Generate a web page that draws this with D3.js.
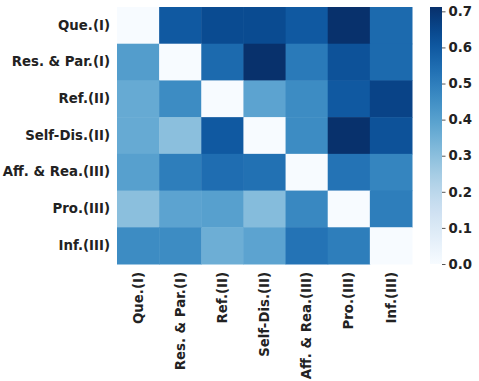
<!DOCTYPE html>
<html>
<head>
<meta charset="utf-8">
<script src="https://cdn.jsdelivr.net/npm/d3@7"></script>
<style>
  body { margin: 0; background: #fff; }
  text { font-family: "DejaVu Sans", sans-serif; font-weight: bold; fill: #222; }
</style>
</head>
<body>
<svg width="479" height="381"></svg>
<script>
const labels = ['Que.(I)', 'Res. & Par.(I)', 'Ref.(II)', 'Self-Dis.(II)', 'Aff. & Rea.(III)', 'Pro.(III)', 'Inf.(III)']

// rows = y labels, columns = x labels
const values = [
  [0.00, 0.60, 0.64, 0.64, 0.60, 0.71, 0.555],
  [0.41, 0.00, 0.555, 0.71, 0.51, 0.62, 0.555],
  [0.37, 0.46, 0.00, 0.39, 0.46, 0.60, 0.66],
  [0.37, 0.30, 0.60, 0.00, 0.46, 0.71, 0.62],
  [0.40, 0.50, 0.545, 0.535, 0.00, 0.53, 0.48],
  [0.30, 0.39, 0.40, 0.31, 0.47, 0.00, 0.50],
  [0.46, 0.46, 0.355, 0.39, 0.53, 0.50, 0.00]
]

const colorTicks = [0.0, 0.1, 0.2, 0.3, 0.4, 0.5, 0.6, 0.7]
const vmax = 0.712

const svg = d3.select('svg')
const margin = { top: 7, left: 117 }
const innerWidth = 295
const innerHeight = 257
const fontSize = '13.3px'

const xScale = d3.scaleBand().domain(labels).range([0, innerWidth])
const yScale = d3.scaleBand().domain(labels).range([0, innerHeight])
const color = d3.scaleSequential(d3.interpolateBlues).domain([0, vmax])

const cells = []
values.forEach((row, i) => row.forEach((v, j) => cells.push({ r: labels[i], c: labels[j], v })))

const g = svg.append('g')
  .attr('transform', `translate(${margin.left}, ${margin.top})`)

g.selectAll('rect').data(cells)
  .enter().append('rect')
    .attr('x', d => xScale(d.c))
    .attr('y', d => yScale(d.r))
    .attr('width', xScale.bandwidth() + 0.5)
    .attr('height', yScale.bandwidth() + 0.5)
    .attr('fill', d => color(d.v))

const yAxis = g.append('g').call(d3.axisLeft(yScale).tickSize(0).tickPadding(7))
yAxis.select('.domain').remove()
yAxis.selectAll('text').style('font-size', fontSize).attr('fill', '#222')

const xAxis = g.append('g')
  .attr('transform', `translate(0, ${innerHeight})`)
  .call(d3.axisBottom(xScale).tickSize(0))
xAxis.select('.domain').remove()
xAxis.selectAll('text')
  .style('font-size', fontSize).attr('fill', '#222')
  .attr('transform', 'rotate(-90)')
  .attr('text-anchor', 'end')
  .attr('x', -8).attr('y', 0).attr('dy', '0.35em')

// colorbar
const cb = { x: 430, y: 7, w: 12, h: 257 }
const defs = svg.append('defs')
const grad = defs.append('linearGradient').attr('id', 'cbar')
  .attr('x1', 0).attr('y1', 1).attr('x2', 0).attr('y2', 0)
d3.range(0, 1.0001, 0.05).forEach(t => {
  grad.append('stop').attr('offset', t).attr('stop-color', d3.interpolateBlues(t))
})
svg.append('rect')
  .attr('x', cb.x).attr('y', cb.y).attr('width', cb.w).attr('height', cb.h)
  .attr('fill', 'url(#cbar)')

const cScale = d3.scaleLinear().domain([0, vmax]).range([cb.y + cb.h, cb.y])
const cAxis = svg.append('g')
  .attr('transform', `translate(${cb.x + cb.w}, 0)`)
  .call(d3.axisRight(cScale).tickValues(colorTicks).tickFormat(d3.format('.1f')).tickSize(3.5).tickPadding(3))
cAxis.select('.domain').remove()
cAxis.selectAll('line').attr('stroke', '#555')
cAxis.selectAll('text').style('font-size', fontSize).attr('fill', '#222')
</script>
</body>
</html>
